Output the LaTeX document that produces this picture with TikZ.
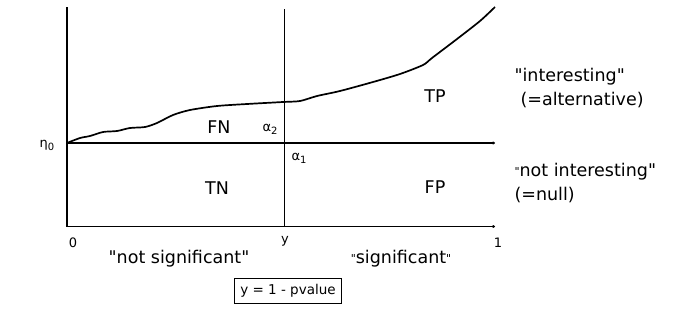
\documentclass[tikz,border=0pt]{standalone}
\usepackage{fontspec}
\setmainfont{DejaVu Sans}[Ligatures=TeXOff]
\usetikzlibrary{arrows.meta}
\newcommand{\fsz}[1]{\fontsize{#1}{#1}\selectfont}
\newcommand{\smq}{{\fsz{11}\raisebox{1pt}{"}}}
\newcommand{\sbs}[1]{\raisebox{-3pt}{\fsz{10}#1}}
\begin{document}
\begin{tikzpicture}[x=1pt,y=-1pt,
  axis/.style={line width=1.1pt,black},
  big/.style={font=\fsz{17.5}},
  side/.style={font=\fsz{17.5},anchor=west},
  small/.style={font=\fsz{13}},
  tip/.style={-{To[length=2.5pt,width=3pt]}}]
\useasboundingbox (0,0) rectangle (685,311);
\coordinate (o) at (67,226.5);
\coordinate (top) at (67,7);
\coordinate (e) at (67,143);
\coordinate (eR) at (495,143);
\coordinate (bR) at (495,226.5);
\coordinate (yt) at (284.5,9);
\coordinate (yb) at (284.5,226.5);
\draw[axis] (top) -- (o);
\draw[axis,tip] (o) -- (bR);
\draw[axis,tip] (e) -- (eR);
\draw[axis] (yt) -- (yb);
\draw[line width=1.7pt,line join=round] plot[smooth,tension=0.45] coordinates {(67,143) (80,138) (90,136) (103,132) (117,131) (130,128) (145,127) (157,123) (173,115) (190,110) (217,106) (247,104) (283,102) (300,101) (317,96) (340,91) (373,82) (400,74) (423,65) (432,58) (457,39) (480,21) (495,7)};
\node[font=\fsz{13}] (eta) at (47,145) {η\sbs{0}};
\node[big] (fn) at (219,127) {FN};
\node[font=\fsz{13}] (a2) at (270,129) {α\sbs{2}};
\node[font=\fsz{13}] (a1) at (299,158) {α\sbs{1}};
\node[big] (tn) at (217,188) {TN};
\node[big] (tp) at (435,96) {TP};
\node[big] (fp) at (435,187) {FP};
\node[side] (int) at (511,77) {"interesting"};
\node[side] (alt) at (517,100) {(=alternative)};
\node[side] (nint) at (511,172) {\smq not interesting"};
\node[side] (null) at (511,195) {(=null)};
\node[small] (z) at (73,243) {0};
\node[small] (yl) at (285,241) {y};
\node[small] (one) at (498,243) {1};
\node[big] (ns) at (179,259) {"not significant"};
\node[big] (sig) at (401,259) {\smq significant\smq};
\node[draw,line width=0.8pt,font=\fsz{13.5},minimum width=107pt,minimum height=25pt,inner sep=0pt] (box) at (288,290.5) {y = 1 - pvalue};
\end{tikzpicture}
\end{document}
